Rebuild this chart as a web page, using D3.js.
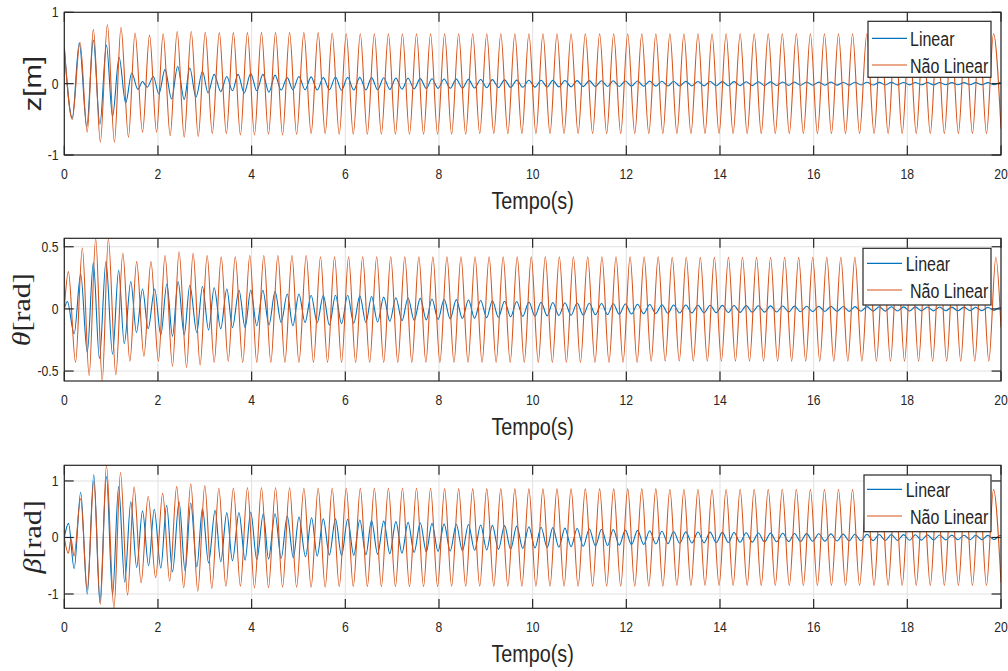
<!DOCTYPE html>
<html>
<head>
<meta charset="utf-8">
<script src="https://cdn.jsdelivr.net/npm/d3@7"></script>
<style>
body { margin: 0; background: #fff; }
svg { display: block; }
</style>
</head>
<body>
<svg id="chart" width="1008" height="671"></svg>
<script>
// extremum points, flat [t, v, t, v, ...]
const zLinear = [0,0.51, 0.17,-0.48, 0.32,0.57, 0.48,-0.60, 0.62,0.61, 0.76,-0.57, 0.90,0.54, 1.03,-0.46, 1.17,0.37, 1.31,-0.27, 1.44,0.15, 1.57,-0.08, 1.67,0.03, 1.77,-0.05, 1.90,0.10, 2.02,-0.145, 2.15,0.20, 2.29,-0.215, 2.42,0.24, 2.56,-0.22, 2.68,0.22, 2.81,-0.19, 2.95,0.17, 3.07,-0.13, 3.20,0.13, 3.34,-0.11, 3.47,0.10, 3.59,-0.10, 3.71,0.13, 3.84,-0.13, 3.98,0.14, 4.11,-0.10, 4.24,0.13, 4.37,-0.12, 4.50,0.12, 4.63,-0.09, 4.76,0.085, 4.88,-0.085, 5.01,0.10, 5.14,-0.085, 5.27,0.095, 5.40,-0.09, 5.53,0.085, 5.66,-0.085,
  5.79,.093, 5.92,-.093, 6.05,.09, 6.18,-.09, 6.31,.088, 6.44,-.087, 6.56,.085, 6.69,-.085, 6.82,.082, 6.95,-.08, 7.08,.078, 7.21,-.078, 7.34,.075, 7.47,-.073, 7.60,.07, 7.73,-.068, 7.85,.068, 7.98,-.066, 8.11,.066, 8.24,-.064, 8.37,.063, 8.50,-.062, 8.63,.06, 8.76,-.06, 8.89,.058, 9.02,-.057, 9.14,.056, 9.27,-.055, 9.40,.053, 9.53,-.052, 9.66,.05, 9.79,-.05, 9.92,.048, 10.05,-.048, 10.18,.047, 10.31,-.046, 10.43,.046, 10.56,-.045, 10.69,.044, 10.82,-.044, 10.95,.043, 11.08,-.042, 11.21,.042, 11.34,-.041, 11.47,.041, 11.60,-.04, 11.72,.04, 11.85,-.039, 11.98,.038, 12.11,-.037, 12.24,.037, 12.37,-.036, 12.50,.035, 12.63,-.035, 12.76,.034, 12.89,-.033, 13.01,.033, 13.14,-.033, 13.27,.032, 13.40,-.032, 13.53,.031, 13.66,-.031, 13.79,.03, 13.92,-.03, 14.05,.029, 14.18,-.029, 14.30,.028, 14.43,-.028, 14.56,.027, 14.69,-.027, 14.82,.026, 14.95,-.026, 15.08,.025, 15.21,-.025, 15.34,.024, 15.47,-.024, 15.59,.023, 15.72,-.023, 15.85,.023, 15.98,-.022, 16.11,.022, 16.24,-.022, 16.37,.021, 16.50,-.021, 16.63,.02, 16.76,-.02, 16.88,.02, 17.01,-.019, 17.14,.019, 17.27,-.019, 17.40,.018, 17.53,-.018, 17.66,.018, 17.79,-.017, 17.92,.017, 18.05,-.017, 18.17,.017, 18.30,-.016, 18.43,.016, 18.56,-.016, 18.69,.016, 18.82,-.015, 18.95,.015, 19.08,-.015, 19.21,.015, 19.34,-.015, 19.46,.014, 19.59,-.014, 19.72,.014, 19.85,-.014, 19.98,.014, 20,.013];

const zNaoLinear = [0,0.51, 0.17,-0.50, 0.335,0.58, 0.49,-0.68, 0.62,0.76, 0.77,-0.82, 0.92,0.83, 1.07,-0.82, 1.21,0.79, 1.37,-0.75, 1.51,0.71, 1.67,-0.68, 1.82,0.68, 1.97,-0.68, 2.11,0.70, 2.26,-0.73, 2.41,0.73, 2.56,-0.75, 2.71,0.73, 2.86,-0.74, 3.01,0.72, 3.16,-0.70, 3.31,0.715, 3.46,-0.70, 3.61,0.715, 3.76,-0.72, 3.91,0.715, 4.06,-0.72, 4.21,0.715, 4.36,-0.71, 4.51,0.715, 4.66,-0.72, 4.81,0.715, 4.96,-0.71, 5.115,0.715, 5.27,-0.70, 5.42,0.715, 5.57,-0.70, 5.72,0.71, 5.87,-0.71,
  6.02,0.70, 6.17,-0.71, 6.32,0.70, 6.47,-0.71, 6.62,0.70, 6.77,-0.71, 6.92,0.70, 7.07,-0.71, 7.22,0.70, 7.37,-0.71, 7.52,0.70, 7.67,-0.71, 7.82,0.70, 7.97,-0.71, 8.12,0.70, 8.27,-0.71, 8.42,0.70, 8.57,-0.71, 8.72,0.70, 8.87,-0.70, 9.02,0.70, 9.17,-0.70, 9.32,0.70, 9.47,-0.70, 9.62,0.70, 9.77,-0.70, 9.92,0.70, 10.07,-0.70, 10.22,0.70, 10.37,-0.70, 10.52,0.70, 10.67,-0.70, 10.82,0.70, 10.97,-0.70, 11.125,0.70, 11.28,-0.70, 11.43,0.70, 11.58,-0.70, 11.73,0.70, 11.88,-0.70, 12.03,0.70, 12.18,-0.70, 12.33,0.70, 12.48,-0.70, 12.63,0.70, 12.78,-0.70, 12.93,0.70, 13.08,-0.70, 13.23,0.70, 13.38,-0.70, 13.53,0.70, 13.68,-0.70, 13.83,0.70, 13.98,-0.70, 14.13,0.70, 14.28,-0.70, 14.43,0.70, 14.58,-0.70, 14.73,0.70, 14.88,-0.70, 15.03,0.70, 15.18,-0.70, 15.33,0.70, 15.48,-0.70, 15.63,0.70, 15.78,-0.70, 15.93,0.70, 16.08,-0.70, 16.23,0.70, 16.38,-0.70, 16.53,0.70, 16.68,-0.70, 16.83,0.70, 16.98,-0.70, 17.135,0.70, 17.29,-0.70, 17.44,0.70, 17.59,-0.70, 17.74,0.70, 17.89,-0.70, 18.04,0.70, 18.19,-0.70, 18.34,0.70, 18.49,-0.70, 18.64,0.70, 18.79,-0.70, 18.94,0.70, 19.09,-0.70, 19.24,0.70, 19.39,-0.70, 19.54,0.70, 19.69,-0.70, 19.84,0.70, 20,-0.63];

const thetaLinear = [0,0, 0.065,0.06, 0.21,-0.20, 0.35,0.28, 0.49,-0.35, 0.62,0.37, 0.75,-0.40, 0.89,0.38, 1.03,-0.365, 1.16,0.31, 1.28,-0.28, 1.42,0.22, 1.54,-0.19, 1.67,0.16, 1.79,-0.16, 1.93,0.16, 2.06,-0.21, 2.19,0.20, 2.31,-0.22, 2.43,0.22, 2.56,-0.21, 2.68,0.19, 2.83,-0.19, 2.95,0.18, 3.08,-0.17, 3.20,0.17, 3.34,-0.16, 3.47,0.16, 3.59,-0.15, 3.73,0.15, 3.86,-0.15, 3.98,0.15, 4.11,-0.135, 4.24,0.15, 4.37,-0.13, 4.50,0.14, 4.63,-0.11, 4.76,0.12, 4.88,-0.135, 5.01,0.12, 5.14,-0.11, 5.27,0.11, 5.40,-0.11, 5.53,0.11, 5.66,-0.13,
  5.79,.11, 5.92,-.12, 6.05,.11, 6.18,-.115, 6.31,.105, 6.44,-.11, 6.56,.10, 6.69,-.105, 6.82,.095, 6.95,-.10, 7.08,.09, 7.21,-.095, 7.34,.088, 7.47,-.092, 7.60,.085, 7.73,-.088, 7.85,.08, 7.98,-.085, 8.11,.078, 8.24,-.08, 8.37,.075, 8.50,-.077, 8.63,.072, 8.76,-.074, 8.89,.068, 9.02,-.07, 9.14,.065, 9.27,-.067, 9.40,.062, 9.53,-.064, 9.66,.06, 9.79,-.06, 9.92,.056, 10.05,-.058, 10.18,.054, 10.31,-.056, 10.43,.052, 10.56,-.053, 10.69,.05, 10.82,-.051, 10.95,.048, 11.08,-.049, 11.21,.046, 11.34,-.047, 11.47,.044, 11.60,-.045, 11.72,.042, 11.85,-.043, 11.98,.04, 12.11,-.041, 12.24,.038, 12.37,-.039, 12.50,.036, 12.63,-.037, 12.76,.034, 12.89,-.035, 13.01,.032, 13.14,-.033, 13.27,.031, 13.40,-.032, 13.53,.03, 13.66,-.031, 13.79,.029, 13.92,-.03, 14.05,.028, 14.18,-.029, 14.30,.027, 14.43,-.028, 14.56,.026, 14.69,-.027, 14.82,.025, 14.95,-.026, 15.08,.024, 15.21,-.025, 15.34,.023, 15.47,-.024, 15.59,.022, 15.72,-.023, 15.85,.021, 15.98,-.022, 16.11,.02, 16.24,-.021, 16.37,.02, 16.50,-.02, 16.63,.019, 16.76,-.02, 16.88,.018, 17.01,-.019, 17.14,.018, 17.27,-.018, 17.40,.017, 17.53,-.018, 17.66,.017, 17.79,-.017, 17.92,.016, 18.05,-.017, 18.17,.016, 18.30,-.016, 18.43,.015, 18.56,-.016, 18.69,.015, 18.82,-.015, 18.95,.014, 19.08,-.015, 19.21,.014, 19.34,-.014, 19.46,.013, 19.59,-.014, 19.72,.013, 19.85,-.013, 19.98,.013, 20,.012];

const thetaNaoLinear = [0,0, 0.087,0.30, 0.24,-0.43, 0.385,0.49, 0.53,-0.535, 0.67,0.567, 0.81,-0.58, 0.94,0.567, 1.10,-0.53, 1.25,0.45, 1.40,-0.42, 1.545,0.38, 1.70,-0.38, 1.85,0.38, 2.01,-0.42, 2.15,0.43, 2.31,-0.46, 2.45,0.46, 2.61,-0.47, 2.75,0.45, 2.90,-0.45, 3.05,0.43, 3.20,-0.43, 3.35,0.42, 3.50,-0.42, 3.65,0.42, 3.81,-0.43, 3.96,0.43, 4.11,-0.43, 4.26,0.43, 4.41,-0.43, 4.56,0.43, 4.71,-0.43, 4.86,0.43, 5.01,-0.43, 5.165,0.43, 5.32,-0.43, 5.47,0.42, 5.62,-0.43, 5.77,0.42,
  5.92,-0.43, 6.07,0.42, 6.22,-0.43, 6.37,0.42, 6.52,-0.43, 6.67,0.42, 6.82,-0.43, 6.97,0.42, 7.12,-0.43, 7.27,0.42, 7.42,-0.43, 7.57,0.42, 7.72,-0.43, 7.87,0.42, 8.02,-0.43, 8.17,0.42, 8.32,-0.43, 8.47,0.42, 8.62,-0.43, 8.77,0.42, 8.92,-0.43, 9.07,0.42, 9.22,-0.43, 9.37,0.42, 9.52,-0.43, 9.67,0.42, 9.82,-0.43, 9.97,0.42, 10.12,-0.43, 10.27,0.42, 10.42,-0.43, 10.57,0.42, 10.72,-0.43, 10.87,0.42, 11.02,-0.43, 11.175,0.42, 11.33,-0.43, 11.48,0.42, 11.63,-0.43, 11.78,0.42, 11.93,-0.43, 12.08,0.42, 12.23,-0.43, 12.38,0.42, 12.53,-0.42, 12.68,0.42, 12.83,-0.42, 12.98,0.415, 13.13,-0.42, 13.28,0.415, 13.43,-0.42, 13.58,0.415, 13.73,-0.42, 13.88,0.415, 14.03,-0.42, 14.18,0.415, 14.33,-0.42, 14.48,0.415, 14.63,-0.42, 14.78,0.415, 14.93,-0.42, 15.08,0.415, 15.23,-0.42, 15.38,0.415, 15.53,-0.42, 15.68,0.415, 15.83,-0.42, 15.98,0.415, 16.13,-0.42, 16.28,0.415, 16.43,-0.42, 16.58,0.415, 16.73,-0.42, 16.88,0.415, 17.03,-0.42, 17.185,0.415, 17.34,-0.42, 17.49,0.415, 17.64,-0.42, 17.79,0.415, 17.94,-0.42, 18.09,0.415, 18.24,-0.42, 18.39,0.415, 18.54,-0.42, 18.69,0.415, 18.84,-0.42, 18.99,0.415, 19.14,-0.42, 19.29,0.415, 19.44,-0.42, 19.59,0.415, 19.74,-0.42, 19.89,0.415, 20,-0.15];

const betaLinear = [0,0, 0.09,0.25, 0.21,-0.55, 0.35,0.80, 0.49,-1.0, 0.63,1.11, 0.76,-1.15, 0.90,1.08, 1.03,-1.02, 1.16,0.90, 1.29,-0.79, 1.42,0.63, 1.545,-0.53, 1.67,0.47, 1.80,-0.50, 1.92,0.50, 2.06,-0.54, 2.185,0.57, 2.31,-0.61, 2.45,0.63, 2.58,-0.59, 2.70,0.61, 2.83,-0.52, 2.95,0.51, 3.08,-0.45, 3.22,0.48, 3.34,-0.43, 3.47,0.44, 3.59,-0.41, 3.73,0.44, 3.86,-0.40, 3.98,0.45, 4.11,-0.39, 4.25,0.42, 4.36,-0.38, 4.50,0.42, 4.63,-0.37, 4.76,0.38, 4.89,-0.36, 5.01,0.36, 5.15,-0.34, 5.28,0.35, 5.40,-0.33, 5.53,0.33, 5.66,-0.31,
  5.79,.33, 5.92,-.32, 6.05,.32, 6.18,-.315, 6.31,.31, 6.44,-.305, 6.56,.30, 6.69,-.295, 6.82,.29, 6.95,-.285, 7.08,.28, 7.21,-.275, 7.34,.27, 7.47,-.265, 7.60,.26, 7.73,-.255, 7.85,.25, 7.98,-.245, 8.11,.24, 8.24,-.24, 8.37,.235, 8.50,-.235, 8.63,.23, 8.76,-.225, 8.89,.22, 9.02,-.22, 9.14,.215, 9.27,-.21, 9.40,.21, 9.53,-.205, 9.66,.20, 9.79,-.195, 9.92,.19, 10.05,-.185, 10.18,.18, 10.31,-.178, 10.43,.175, 10.56,-.17, 10.69,.165, 10.82,-.162, 10.95,.16, 11.08,-.155, 11.21,.15, 11.34,-.148, 11.47,.145, 11.60,-.142, 11.72,.14, 11.85,-.135, 11.98,.13, 12.11,-.128, 12.24,.125, 12.37,-.122, 12.50,.12, 12.63,-.115, 12.76,.11, 12.89,-.108, 13.01,.105, 13.14,-.103, 13.27,.10, 13.40,-.098, 13.53,.097, 13.66,-.095, 13.79,.094, 13.92,-.092, 14.05,.09, 14.18,-.088, 14.30,.087, 14.43,-.085, 14.56,.084, 14.69,-.082, 14.82,.08, 14.95,-.078, 15.08,.077, 15.21,-.075, 15.34,.074, 15.47,-.072, 15.59,.071, 15.72,-.07, 15.85,.068, 15.98,-.067, 16.11,.065, 16.24,-.064, 16.37,.063, 16.50,-.062, 16.63,.06, 16.76,-.059, 16.88,.058, 17.01,-.057, 17.14,.056, 17.27,-.055, 17.40,.054, 17.53,-.053, 17.66,.052, 17.79,-.051, 17.92,.05, 18.05,-.049, 18.17,.048, 18.30,-.047, 18.43,.046, 18.56,-.045, 18.69,.044, 18.82,-.043, 18.95,.042, 19.08,-.041, 19.21,.04, 19.34,-.04, 19.46,.039, 19.59,-.038, 19.72,.037, 19.85,-.037, 19.98,.036, 20,.035];

const betaNaoLinear = [0,0, 0.086,-0.28, 0.143,-0.03, 0.207,-0.33, 0.35,0.69, 0.49,-0.92, 0.63,0.99, 0.77,-1.18, 0.90,1.277, 1.06,-1.253, 1.20,1.15, 1.35,-1.02, 1.49,0.89, 1.64,-0.80, 1.79,0.73, 1.95,-0.71, 2.10,0.78, 2.25,-0.77, 2.40,0.90, 2.55,-0.89, 2.70,0.95, 2.85,-0.95, 3.00,0.92, 3.15,-0.90, 3.30,0.87, 3.45,-0.86, 3.61,0.87, 3.76,-0.86, 3.91,0.88, 4.06,-0.89, 4.21,0.88, 4.36,-0.89, 4.51,0.88, 4.66,-0.88, 4.81,0.88, 4.96,-0.88, 5.115,0.87, 5.27,-0.88, 5.42,0.87, 5.57,-0.88, 5.72,0.87, 5.87,-0.87,
  6.02,0.87, 6.17,-0.87, 6.32,0.87, 6.47,-0.87, 6.62,0.87, 6.77,-0.87, 6.92,0.87, 7.07,-0.87, 7.22,0.87, 7.37,-0.87, 7.52,0.87, 7.67,-0.87, 7.82,0.87, 7.97,-0.87, 8.12,0.86, 8.27,-0.86, 8.42,0.86, 8.57,-0.86, 8.72,0.86, 8.87,-0.86, 9.02,0.86, 9.17,-0.86, 9.32,0.86, 9.47,-0.86, 9.62,0.86, 9.77,-0.86, 9.92,0.86, 10.07,-0.86, 10.22,0.86, 10.37,-0.86, 10.52,0.86, 10.67,-0.86, 10.82,0.86, 10.97,-0.86, 11.125,0.86, 11.28,-0.86, 11.43,0.86, 11.58,-0.86, 11.73,0.86, 11.88,-0.86, 12.03,0.86, 12.18,-0.86, 12.33,0.86, 12.48,-0.86, 12.63,0.86, 12.78,-0.86, 12.93,0.85, 13.08,-0.85, 13.23,0.85, 13.38,-0.85, 13.53,0.85, 13.68,-0.85, 13.83,0.85, 13.98,-0.85, 14.13,0.85, 14.28,-0.85, 14.43,0.85, 14.58,-0.85, 14.73,0.85, 14.88,-0.85, 15.03,0.85, 15.18,-0.85, 15.33,0.85, 15.48,-0.85, 15.63,0.85, 15.78,-0.85, 15.93,0.85, 16.08,-0.85, 16.23,0.85, 16.38,-0.85, 16.53,0.85, 16.68,-0.85, 16.83,0.85, 16.98,-0.85, 17.135,0.85, 17.29,-0.85, 17.44,0.85, 17.59,-0.85, 17.74,0.85, 17.89,-0.85, 18.04,0.85, 18.19,-0.85, 18.34,0.85, 18.49,-0.85, 18.64,0.85, 18.79,-0.85, 18.94,0.85, 19.09,-0.85, 19.24,0.85, 19.39,-0.85, 19.54,0.85, 19.69,-0.85, 19.84,0.85, 20,-0.80];

const xTicks = [0, 2, 4, 6, 8, 10, 12, 14, 16, 18, 20];
const yTicksZ = [-1, 0, 1];
const yTicksTheta = [-0.5, 0, 0.5];
const yTicksBeta = [-1, 0, 1];
const seriesNames = ["Linear", "Não Linear"];

const pairs = flat => d3.range(0, flat.length, 2).map(i => [flat[i], flat[i + 1]]);

const svg = d3.select("#chart");
const plotLeft = 64.3, plotRight = 1001;
const axisColor = "#262626";
const gridColor = "#e1e1e1";
const colors = ["#0072BD", "#D95319"];
const sans = "'Liberation Sans', Arial, Helvetica, sans-serif";
const serif = "'Liberation Serif', 'Times New Roman', serif";

const x = d3.scaleLinear().domain([0, 20]).range([plotLeft, plotRight]);

const panels = [
    {top: 12.3, bottom: 155, domain: [-1, 1], ticks: yTicksZ, data: [zLinear, zNaoLinear],
     ylabel: "z", labelX: 41, legend: {x: 868, y: 21.3, w: 123, h: 56, l1: 872, l2: 907, t1: 910, t2: 910, r1: 38.3, r2: 65}},
    {top: 238.3, bottom: 381, domain: [-0.58, 0.568], ticks: yTicksTheta, data: [thetaLinear, thetaNaoLinear],
     ylabel: "θ", labelX: 30, legend: {x: 863, y: 248.3, w: 128, h: 56.7, l1: 867, l2: 902, t1: 905.7, t2: 910, r1: 263.3, r2: 290}},
    {top: 465.3, bottom: 608.3, domain: [-1.253, 1.277], ticks: yTicksBeta, data: [betaLinear, betaNaoLinear],
     ylabel: "β", labelX: 41, legend: {x: 864, y: 475, w: 127, h: 56.7, l1: 867, l2: 902, t1: 905.7, t2: 910, r1: 489.3, r2: 516}}
];

// horizontally squeezed text, like the reference
function text(g, str, px, py, size, anchor, sx) {
    return g.append("text")
        .attr("transform", `translate(${px},${py}) scale(${sx},1)`)
        .attr("text-anchor", anchor)
        .attr("font-family", sans)
        .attr("font-size", size)
        .attr("fill", axisColor)
        .text(str);
}

panels.forEach((p, i) => {
    const g = svg.append("g");
    const y = d3.scaleLinear().domain(p.domain).range([p.bottom, p.top]);

    // grid
    g.selectAll(".gx").data(xTicks).enter().append("line")
        .attr("x1", d => x(d)).attr("x2", d => x(d))
        .attr("y1", p.top).attr("y2", p.bottom)
        .attr("stroke", gridColor).attr("stroke-width", 1);
    g.selectAll(".gy").data(p.ticks).enter().append("line")
        .attr("x1", plotLeft).attr("x2", plotRight)
        .attr("y1", d => y(d)).attr("y2", d => y(d))
        .attr("stroke", gridColor).attr("stroke-width", 1);

    // clip
    const clipId = "clip" + i;
    svg.append("clipPath").attr("id", clipId).append("rect")
        .attr("x", plotLeft).attr("y", p.top)
        .attr("width", plotRight - plotLeft).attr("height", p.bottom - p.top);

    const line = d3.line()
        .x(d => x(d[0]))
        .y(d => y(d[1]))
        .curve(d3.curveMonotoneX);

    p.data.forEach((flat, k) => {
        g.append("path")
            .attr("d", line(pairs(flat)))
            .attr("clip-path", `url(#${clipId})`)
            .attr("fill", "none")
            .attr("stroke", colors[k])
            .attr("stroke-width", 1.1);
    });

    // ticks inward on all sides
    const tl = 9.4;
    xTicks.forEach(t => {
        g.append("line").attr("x1", x(t)).attr("x2", x(t)).attr("y1", p.bottom).attr("y2", p.bottom - tl)
            .attr("stroke", axisColor).attr("stroke-width", 1.2);
        g.append("line").attr("x1", x(t)).attr("x2", x(t)).attr("y1", p.top).attr("y2", p.top + tl)
            .attr("stroke", axisColor).attr("stroke-width", 1.2);
        text(g, String(t), x(t), p.bottom + 23.5, 14.5, "middle", 0.84);
    });
    p.ticks.forEach(t => {
        g.append("line").attr("x1", plotLeft).attr("x2", plotLeft + tl).attr("y1", y(t)).attr("y2", y(t))
            .attr("stroke", axisColor).attr("stroke-width", 1.2);
        g.append("line").attr("x1", plotRight).attr("x2", plotRight - tl).attr("y1", y(t)).attr("y2", y(t))
            .attr("stroke", axisColor).attr("stroke-width", 1.2);
        text(g, String(t), 58.5, y(t) + 5, 14.5, "end", 0.84);
    });

    // box
    g.append("rect")
        .attr("x", plotLeft).attr("y", p.top)
        .attr("width", plotRight - plotLeft).attr("height", p.bottom - p.top)
        .attr("fill", "none").attr("stroke", axisColor).attr("stroke-width", 1.2);

    // x label
    text(g, "Tempo(s)", (plotLeft + plotRight) / 2, p.bottom + 54, 23, "middle", 0.86);

    // y label
    const cy = (p.top + p.bottom) / 2;
    if (p.ylabel === "z") {
        g.append("text")
            .attr("transform", `translate(${p.labelX},${cy}) rotate(-90) scale(1.05,0.85)`)
            .attr("text-anchor", "middle")
            .attr("font-family", sans).attr("font-size", 28).attr("fill", axisColor)
            .text("z[m]");
    } else {
        const t = g.append("text")
            .attr("transform", `translate(${p.labelX},${cy}) rotate(-90) scale(1,0.85)`)
            .attr("text-anchor", "middle")
            .attr("font-family", serif).attr("font-size", 30).attr("fill", axisColor);
        t.append("tspan").attr("font-style", "italic").text(p.ylabel);
        t.append("tspan").text("[rad]");
    }

    // legend
    const L = p.legend;
    g.append("rect").attr("x", L.x).attr("y", L.y).attr("width", L.w).attr("height", L.h)
        .attr("fill", "#fff").attr("stroke", axisColor).attr("stroke-width", 1.2);
    [L.r1, L.r2].forEach((ry, k) => {
        g.append("line").attr("x1", L.l1).attr("x2", L.l2).attr("y1", ry).attr("y2", ry)
            .attr("stroke", colors[k]).attr("stroke-width", 1.2);
        text(g, seriesNames[k], k === 0 ? L.t1 : L.t2, ry + 7.5, 20, "start", 0.8);
    });
});
</script>
</body>
</html>
